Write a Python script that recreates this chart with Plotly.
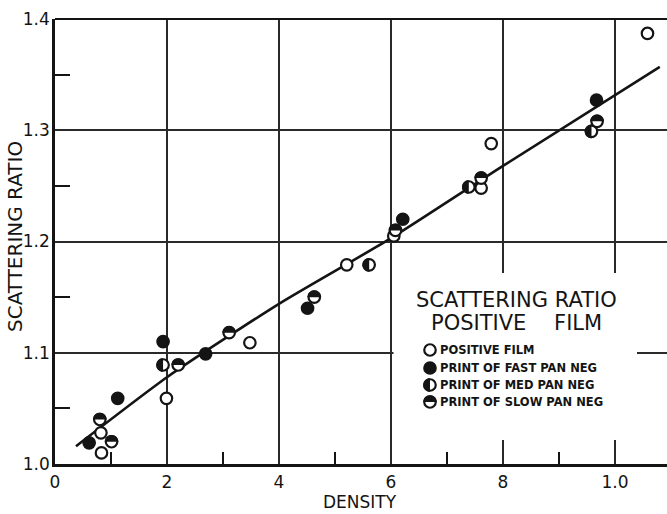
import numpy as np
import plotly.graph_objects as go

# Scattering ratio vs. density, grouped by film type
positive_x = [0.83, 0.82, 1.99, 3.48, 5.21, 6.05, 7.61, 7.79, 10.58]
positive_y = [1.010, 1.028, 1.059, 1.109, 1.179, 1.205, 1.248, 1.288, 1.387]

fast_x = [0.61, 1.12, 1.93, 2.69, 4.51, 6.21, 9.67]
fast_y = [1.019, 1.059, 1.110, 1.099, 1.140, 1.220, 1.327]

med_x = [1.93, 5.61, 7.39, 9.58]
med_y = [1.089, 1.179, 1.249, 1.299]

slow_x = [0.80, 1.01, 2.20, 3.11, 4.63, 6.08, 7.61, 9.68]
slow_y = [1.040, 1.020, 1.089, 1.118, 1.150, 1.210, 1.257, 1.308]

# Smooth curve drawn through the points
fit_x = [0.375, 2.0, 4.0, 6.0, 8.0, 10.8]
fit_y = [1.016, 1.078, 1.144, 1.203, 1.268, 1.357]

x_tick_vals = [0, 2, 4, 6, 8, 10]
x_tick_text = ["0", "2", "4", "6", "8", "1.0"]
y_tick_vals = [1.0, 1.1, 1.2, 1.3, 1.4]
y_tick_text = ["1.0", "1.1", "1.2", "1.3", "1.4"]

legend_title = ["SCATTERING RATIO", "POSITIVE\u2003 FILM"]
legend_labels = ["POSITIVE FILM", "PRINT OF FAST PAN NEG",
                 "PRINT OF MED PAN NEG", "PRINT OF SLOW PAN NEG"]

INK = "#141414"
GRID = "#2a2a2a"
W, H = 667, 514
ML, MR, MT, MB = 55, 0, 19, 50
PW, PH = W - ML - MR, H - MT - MB
MSIZE, MLINE = 11.5, 2.2
R = MSIZE / 2 + MLINE / 2  # outer radius of a marker, px


def half_disk(side, r=R, n=28):
    """SVG path (pixel offsets, y up) for the dark half of a marker."""
    if side == "left":
        ang = np.linspace(np.pi / 2, 3 * np.pi / 2, n)
    else:  # top
        ang = np.linspace(0, np.pi, n)
    pts = [f"{r * np.cos(a):.2f},{r * np.sin(a):.2f}" for a in ang]
    return "M" + " L".join(pts) + " Z"


def px_to_paper(px, py):
    return (px - ML) / PW, (H - MB - py) / PH


fig = go.Figure()

fig.add_trace(go.Scatter(x=fit_x, y=fit_y, mode="lines",
                         line=dict(color=INK, width=2.6, shape="spline", smoothing=0.6),
                         hoverinfo="skip"))

marker_open = dict(size=MSIZE, color="white", line=dict(color=INK, width=MLINE))
marker_full = dict(size=MSIZE, color=INK, line=dict(color=INK, width=MLINE))

fig.add_trace(go.Scatter(x=positive_x, y=positive_y, mode="markers",
                         marker=marker_open, name=legend_labels[0]))
fig.add_trace(go.Scatter(x=fast_x, y=fast_y, mode="markers",
                         marker=marker_full, name=legend_labels[1]))
fig.add_trace(go.Scatter(x=med_x, y=med_y, mode="markers",
                         marker=marker_open, name=legend_labels[2]))
fig.add_trace(go.Scatter(x=slow_x, y=slow_y, mode="markers",
                         marker=marker_open, name=legend_labels[3]))

shapes = []
# dark halves of the half-filled markers, anchored on the data values
for xs, ys, side in ((med_x, med_y, "left"), (slow_x, slow_y, "top")):
    for xv, yv in zip(xs, ys):
        shapes.append(dict(type="path", xref="x", yref="y",
                           xsizemode="pixel", ysizemode="pixel",
                           xanchor=xv, yanchor=yv, path=half_disk(side),
                           fillcolor=INK, line=dict(width=0), layer="above"))

# top border of the plotting frame
shapes.append(dict(type="line", xref="paper", yref="paper", x0=0, x1=1, y0=1, y1=1,
                   line=dict(color=INK, width=2.2), layer="above"))

# white panel holding the key
bx0, by0 = px_to_paper(393.5, 440)
bx1, by1 = px_to_paper(637, 273)
shapes.append(dict(type="rect", xref="paper", yref="paper",
                   x0=bx0, x1=bx1, y0=by0, y1=by1,
                   fillcolor="white", line=dict(width=0), layer="above"))

annotations = []
for txt, cy in zip(legend_title, (300, 323)):
    ax_, ay_ = px_to_paper(516, cy)
    annotations.append(dict(text=txt, x=ax_, y=ay_, xref="paper", yref="paper",
                            showarrow=False, xanchor="center", yanchor="middle",
                            font=dict(family="DejaVu Sans", size=21, color=INK)))

key_rows = [350, 368, 385, 402]
key_kind = ["open", "full", "left", "top"]
for label, cy, kind in zip(legend_labels, key_rows, key_kind):
    kx, ky = px_to_paper(430, cy)
    shapes.append(dict(type="circle", xref="paper", yref="paper",
                       xsizemode="pixel", ysizemode="pixel", xanchor=kx, yanchor=ky,
                       x0=-MSIZE / 2, x1=MSIZE / 2, y0=-MSIZE / 2, y1=MSIZE / 2,
                       fillcolor=INK if kind == "full" else "white",
                       line=dict(color=INK, width=MLINE), layer="above"))
    if kind in ("left", "top"):
        shapes.append(dict(type="path", xref="paper", yref="paper",
                           xsizemode="pixel", ysizemode="pixel", xanchor=kx, yanchor=ky,
                           path=half_disk(kind), fillcolor=INK,
                           line=dict(width=0), layer="above"))
    tx, ty = px_to_paper(438, cy)
    annotations.append(dict(text=f"<b>{label}</b>", x=tx, y=ty, xref="paper", yref="paper",
                            showarrow=False, xanchor="left", yanchor="middle",
                            font=dict(family="DejaVu Sans", size=11.5, color=INK)))

# axis titles
tx, ty = px_to_paper(360, 513)
annotations.append(dict(text="DENSITY", x=tx, y=ty, xref="paper", yref="paper",
                        showarrow=False, xanchor="center", yanchor="bottom",
                        borderpad=0,
                        font=dict(family="DejaVu Sans", size=17, color=INK)))
tx, ty = px_to_paper(15, 237)
annotations.append(dict(text="SCATTERING RATIO", x=tx, y=ty, xref="paper", yref="paper",
                        showarrow=False, xanchor="center", yanchor="middle", textangle=-90,
                        font=dict(family="DejaVu Sans", size=20, color=INK)))

fig.update_layout(
    width=W, height=H,
    margin=dict(l=ML, r=MR, t=MT, b=MB),
    paper_bgcolor="white", plot_bgcolor="white",
    showlegend=False,
    shapes=shapes, annotations=annotations,
    font=dict(family="DejaVu Sans", color=INK),
    xaxis=dict(range=[0, PW / 56.0], tickmode="array", tickvals=x_tick_vals,
               ticktext=x_tick_text, ticks="", showgrid=True, gridcolor=GRID,
               gridwidth=1.5, showline=True, linecolor=INK, linewidth=2.6,
               zeroline=False, tickfont=dict(size=17, color=INK),
               ticklabelstandoff=1,
               minor=dict(tickmode="linear", tick0=1, dtick=2, ticks="inside",
                          ticklen=12, tickwidth=2, tickcolor=INK, showgrid=False)),
    yaxis=dict(range=[1.0, 1.0 + PH / 1112.5], tickmode="array", tickvals=y_tick_vals,
               ticktext=y_tick_text, ticks="", showgrid=True, gridcolor=GRID,
               gridwidth=1.5, showline=True, linecolor=INK, linewidth=2.6,
               zeroline=False, tickfont=dict(size=17, color=INK),
               ticklabelstandoff=-1,
               minor=dict(tickmode="linear", tick0=1.05, dtick=0.1, ticks="inside",
                          ticklen=15, tickwidth=2, tickcolor=INK, showgrid=False)),
)

fig.write_html("out.html")
